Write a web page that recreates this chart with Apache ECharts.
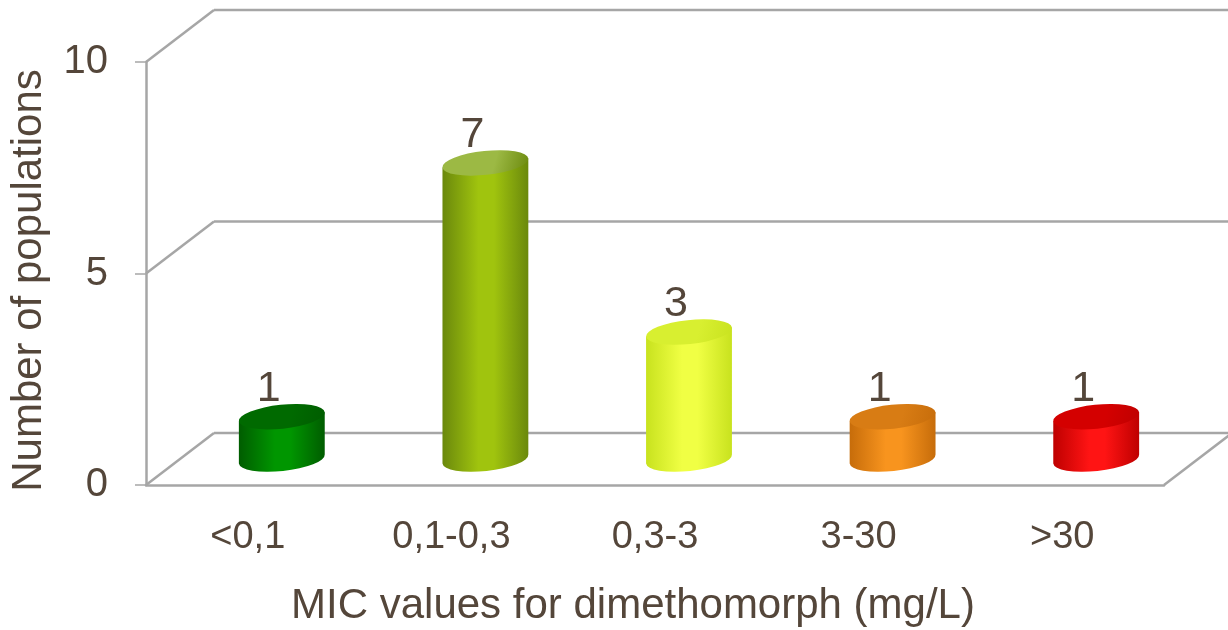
<!DOCTYPE html>
<html>
<head>
<meta charset="utf-8">
<script src="https://cdn.jsdelivr.net/npm/echarts@6/dist/echarts.min.js"></script>
<style>
  html, body { margin: 0; padding: 0; background: #fff; }
  #main { width: 1228px; height: 630px; }
</style>
</head>
<body>
<div id="main"></div>
<script>
// data
var categories = ['<0,1', '0,1-0,3', '0,3-3', '3-30', '>30'];
var populations = [1, 7, 3, 1, 1];
var yTicks = [0, 5, 10];
// [edge, highlight, top] per bar
var barColors = [
  ['#005c00', '#009600', '#006a00'],
  ['#6a880c', '#a0c40e', '#9cb944'],
  ['#c8e21e', '#f0ff44', '#d8ef30'],
  ['#c66c0a', '#f8941e', '#d87c14'],
  ['#be0000', '#ff1414', '#d40000']
];

var FONT = "'Liberation Sans', Arial, sans-serif";
var TEXT = '#54463a';
var FRAME = '#a6a6a6';
// depth offset of the back wall
var DX = 68, DY = -52;
var RY = 12, TILT = -6;

var chart = echarts.init(document.getElementById('main'));

function line(x1, y1, x2, y2) {
  return {
    type: 'line',
    shape: { x1: x1, y1: y1, x2: x2, y2: y2 },
    style: { stroke: FRAME, lineWidth: 2.5 }
  };
}

// back wall grid lines + diagonals
function renderFrame(params, api) {
  var v = api.value(1);
  var band = api.size([1, 0])[0];
  var p0 = api.coord([0, v]);
  var left = p0[0] - band / 2;
  var right = api.coord([categories.length - 1, v])[0] + band / 2;
  var y = p0[1];
  var kids = [
    line(left, y, left + DX, y + DY),
    line(left + DX, y + DY, right + DX + 20, y + DY)
  ];
  if (v === 0) kids.push(line(right, y, right + DX, y + DY));
  return { type: 'group', children: kids };
}

function renderCylinder(params, api) {
  var i = api.value(0), v = api.value(1);
  var base = api.coord([i, 0]);
  var head = api.coord([i, v]);
  var band = api.size([1, 0])[0];
  var rx = band * 0.212;
  var cx = base[0] + DX / 2;
  var yb = base[1] + DY / 2;
  var yt = head[1] + DY / 2;
  var a = TILT * Math.PI / 180;
  var ex = rx * Math.cos(a), ey = rx * Math.sin(a);
  var c = barColors[i];

  var body = 'M' + (cx - ex) + ' ' + (yt - ey) +
    ' L' + (cx - ex) + ' ' + (yb - ey) +
    ' A' + rx + ' ' + RY + ' ' + TILT + ' 0 0 ' + (cx + ex) + ' ' + (yb + ey) +
    ' L' + (cx + ex) + ' ' + (yt + ey) + ' Z';
  var top = 'M' + (cx - ex) + ' ' + (yt - ey) +
    ' A' + rx + ' ' + RY + ' ' + TILT + ' 0 0 ' + (cx + ex) + ' ' + (yt + ey) +
    ' A' + rx + ' ' + RY + ' ' + TILT + ' 0 0 ' + (cx - ex) + ' ' + (yt - ey) + ' Z';

  return {
    type: 'group',
    children: [
      {
        type: 'path',
        shape: { pathData: body },
        style: {
          fill: new echarts.graphic.LinearGradient(0, 0, 1, 0, [
            { offset: 0, color: c[0] },
            { offset: 0.42, color: c[1] },
            { offset: 0.6, color: c[1] },
            { offset: 1, color: c[0] }
          ])
        }
      },
      {
        type: 'path',
        shape: { pathData: top },
        style: {
          fill: new echarts.graphic.LinearGradient(0, 0, 1, 1, [
            { offset: 0, color: c[2] },
            { offset: 0.6, color: c[2] },
            { offset: 1, color: c[0] }
          ])
        }
      },
      {
        type: 'text',
        x: cx - 13,
        y: yt - RY - 16,
        style: {
          text: String(v),
          fontSize: 43,
          fontFamily: FONT,
          fill: TEXT,
          align: 'center',
          verticalAlign: 'middle'
        }
      }
    ]
  };
}

var option = {
  animation: false,
  backgroundColor: '#fff',
  grid: { left: 146, right: 64, top: 62, bottom: 145, outerBoundsMode: 'none' },
  xAxis: {
    type: 'category',
    data: categories,
    name: 'MIC values for dimethomorph (mg/L)',
    nameLocation: 'middle',
    nameGap: 100,
    nameTextStyle: { fontSize: 42, fontFamily: FONT, color: TEXT, padding: [0, 44, 0, 0] },
    axisLine: { lineStyle: { color: FRAME, width: 2.5 } },
    axisTick: { length: 12, lineStyle: { color: FRAME, width: 1.5 } },
    axisLabel: { fontSize: 38, fontFamily: FONT, color: TEXT, margin: 34 }
  },
  yAxis: {
    type: 'value',
    min: 0, max: 10, interval: 5,
    name: 'Number of populations',
    nameLocation: 'middle',
    nameRotate: 90,
    nameGap: 96,
    nameTextStyle: { fontSize: 42, fontFamily: FONT, color: TEXT, padding: [0, 14, 0, 0] },
    axisLine: { show: true, lineStyle: { color: FRAME, width: 2.5 } },
    axisTick: { show: true, length: 11, lineStyle: { color: FRAME, width: 1.5 } },
    splitLine: { show: false },
    axisLabel: { fontSize: 40, fontFamily: FONT, color: TEXT, margin: 38 }
  },
  series: [
    {
      type: 'custom',
      name: 'frame',
      z: 1,
      silent: true,
      renderItem: renderFrame,
      data: yTicks.map(function (v) { return [0, v]; })
    },
    {
      type: 'custom',
      name: 'populations',
      z: 5,
      renderItem: renderCylinder,
      data: populations.map(function (v, i) { return [i, v]; })
    }
  ]
};
chart.setOption(option);
</script>
</body>
</html>
